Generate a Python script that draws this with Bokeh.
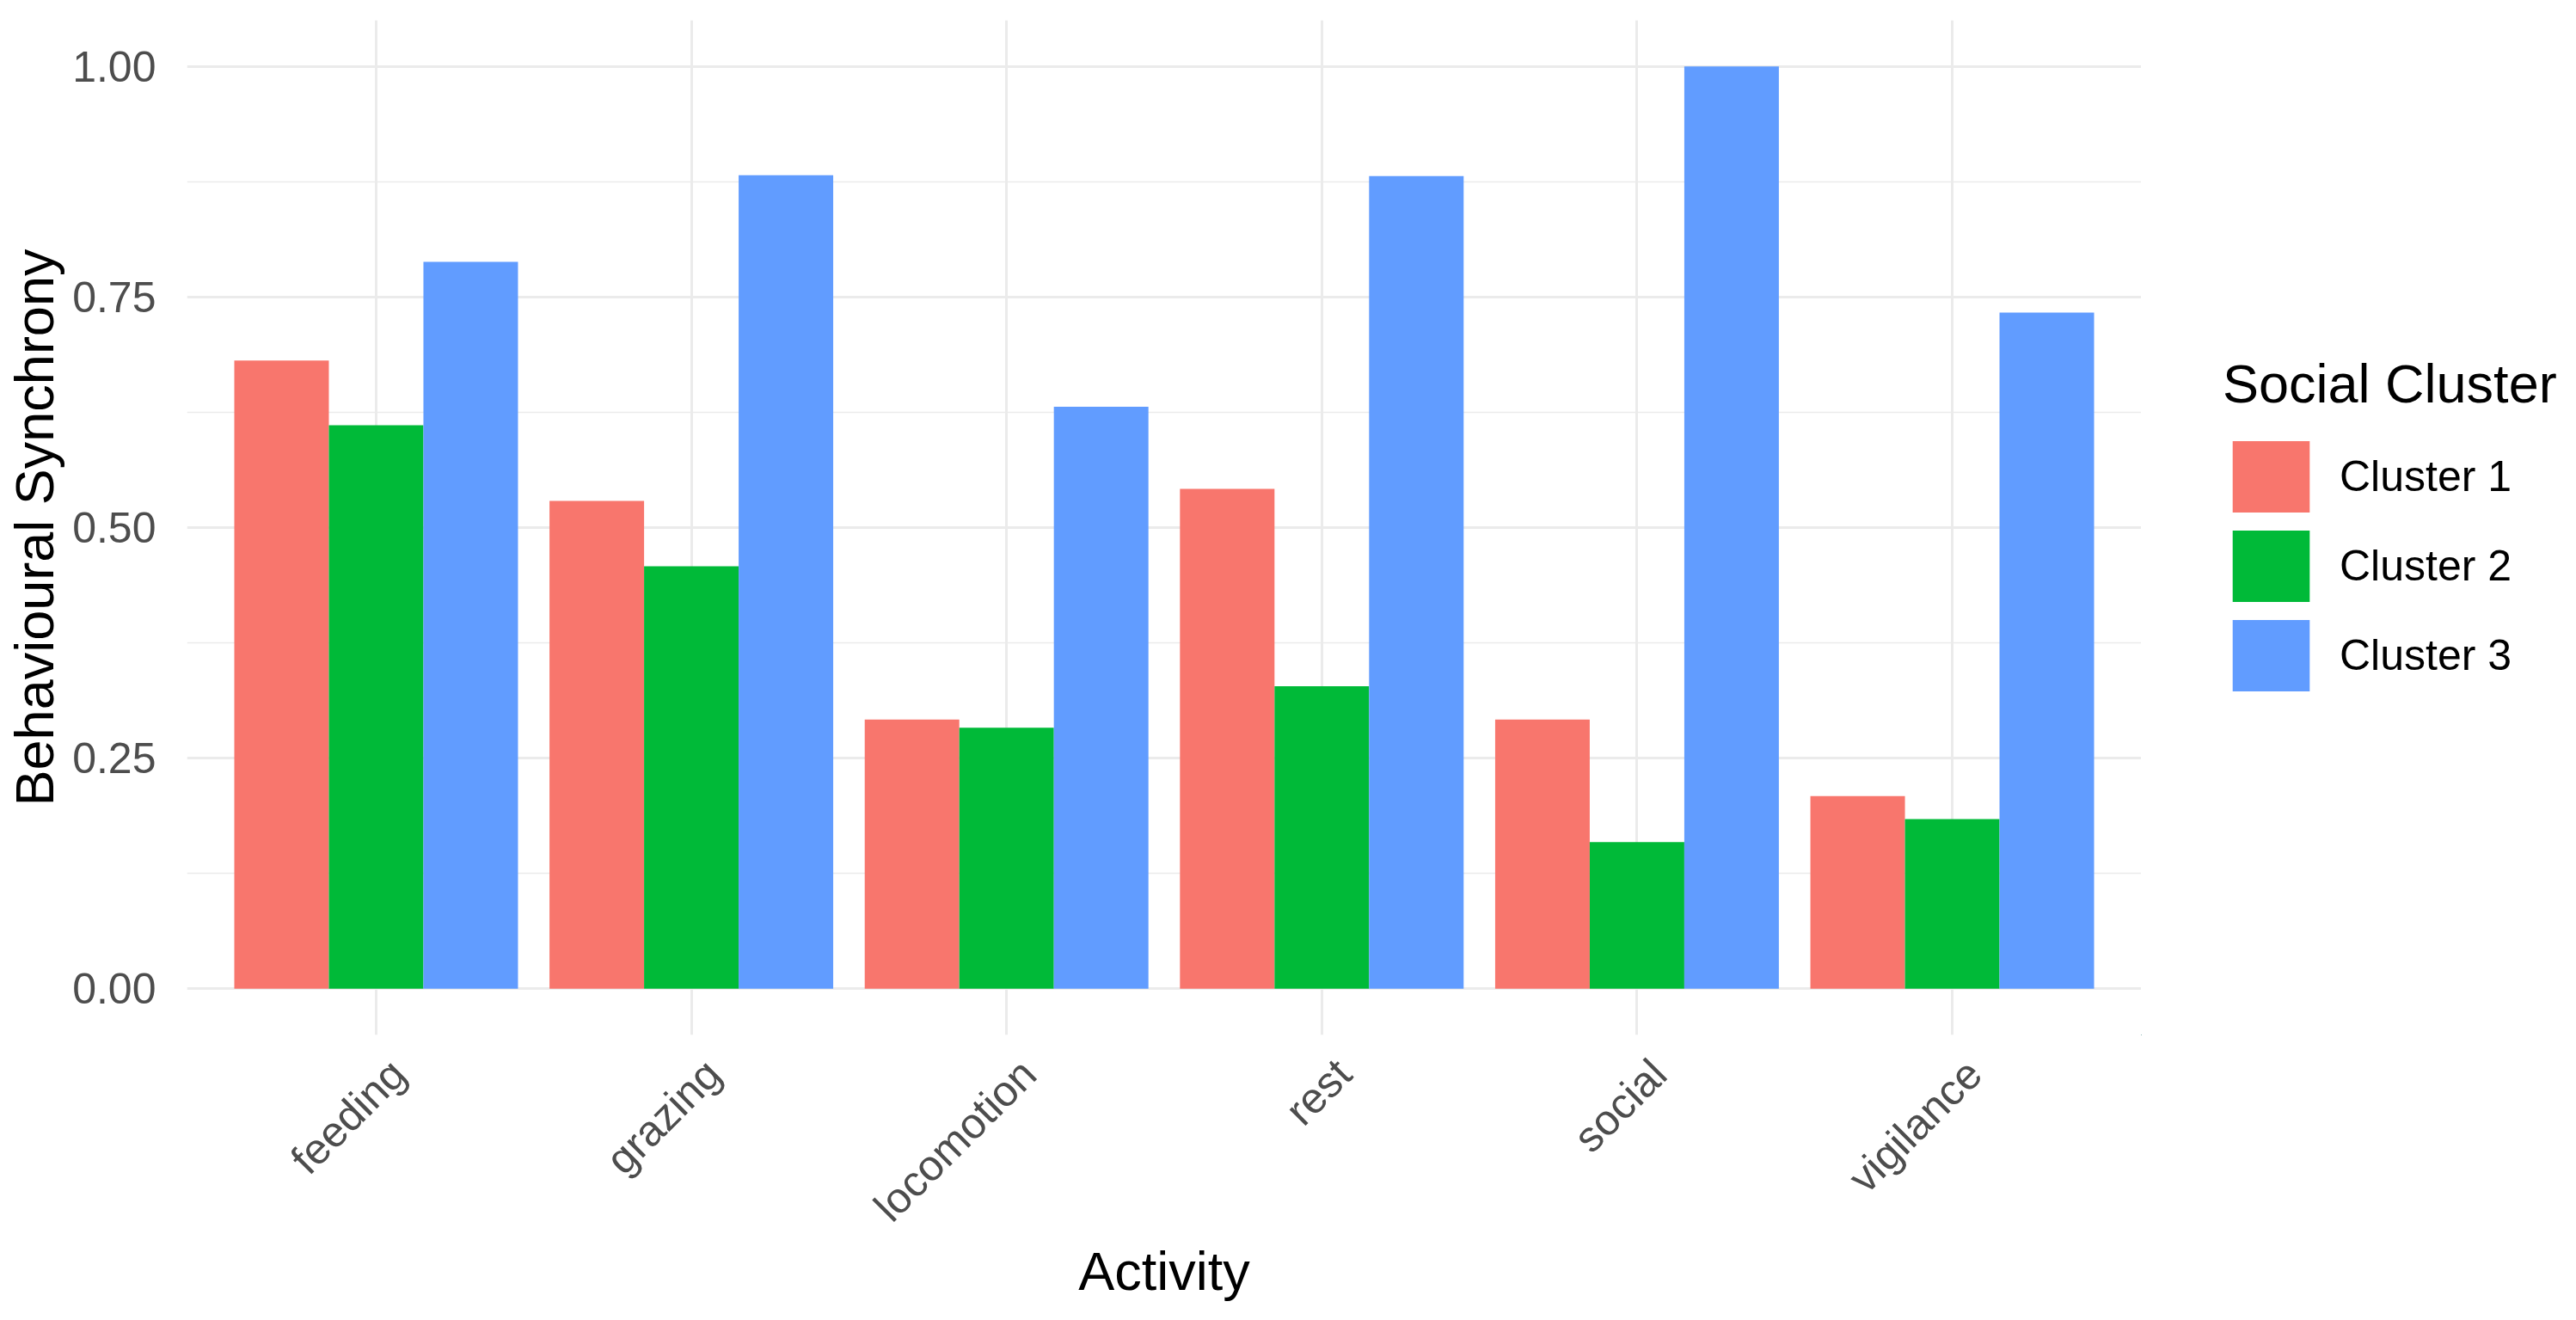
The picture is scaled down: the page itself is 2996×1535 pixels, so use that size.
import math
from bokeh.plotting import figure
from bokeh.layouts import row
from bokeh.models import (Range1d, FixedTicker, NumeralTickFormatter,
                          Legend, LegendItem, ColumnDataSource, LinearAxis)
from bokeh.transform import dodge
from bokeh.embed import file_html
from bokeh.resources import INLINE

activities = ["feeding", "grazing", "locomotion", "rest", "social", "vigilance"]
clusters = ["Cluster 1", "Cluster 2", "Cluster 3"]
cluster1 = [0.681, 0.529, 0.292, 0.542, 0.292, 0.209]
cluster2 = [0.611, 0.458, 0.283, 0.328, 0.159, 0.184]
cluster3 = [0.788, 0.882, 0.631, 0.881, 1.000, 0.733]
colors = ["#F8766D", "#00BA38", "#619CFF"]
y_ticks = [0.0, 0.25, 0.5, 0.75, 1.0]
y_minor = [0.125, 0.375, 0.625, 0.875]

FONT = "Liberation Sans"
H = 1519
W_MAIN, W_LEG = 2490, 490
n = len(activities)
centers = [i + 0.5 for i in range(n)]   # slot centre of each activity

p = figure(width=W_MAIN, height=H,
           x_range=Range1d(-0.1, n + 0.1),
           y_range=Range1d(-0.05, 1.05),
           output_backend="svg", toolbar_location=None,
           min_border_left=217, min_border_right=0,
           min_border_top=23, min_border_bottom=316)

src = ColumnDataSource(dict(activity=activities, x=centers,
                            c1=cluster1, c2=cluster2, c3=cluster3))
offsets = [-0.3, 0.0, 0.3]
keys = ["c1", "c2", "c3"]
for key, off, col in zip(keys, offsets, colors):
    p.vbar(x=dodge("x", off), top=key, bottom=0,
           width=0.3, source=src, fill_color=col, line_color=None)

p.outline_line_color = None
p.background_fill_color = "white"
p.border_fill_color = "white"

p.xaxis.ticker = FixedTicker(ticks=centers, minor_ticks=[])
p.xaxis.visible = False
p.xgrid.ticker = FixedTicker(ticks=centers, minor_ticks=[])
p.xgrid.grid_line_color = "#EBEBEB"
p.xgrid.grid_line_width = 3
p.ygrid.grid_line_color = "#EBEBEB"
p.ygrid.grid_line_width = 3
p.ygrid.minor_grid_line_color = "#EBEBEB"
p.ygrid.minor_grid_line_width = 1.5

p.yaxis.ticker = FixedTicker(ticks=y_ticks, minor_ticks=y_minor)
p.yaxis.formatter = NumeralTickFormatter(format="0.00")

# label axis, shifted slightly right so rotated labels end like ggplot's hjust=1/vjust=1
shift = 0.07
p.extra_x_ranges = {"lab": Range1d(start=-0.1 - shift, end=n + 0.1 - shift)}
lab_axis = LinearAxis(x_range_name="lab",
                      ticker=FixedTicker(ticks=centers, minor_ticks=[]),
                      major_label_overrides={t: a for t, a in zip(centers, activities)})
p.add_layout(lab_axis, "below")

for ax in (lab_axis, p.yaxis[0]):
    ax.axis_line_color = None
    ax.major_tick_line_color = None
    ax.minor_tick_line_color = None
    ax.major_label_text_font = FONT
    ax.major_label_text_font_size = "50px"
    ax.major_label_text_color = "#4D4D4D"
    ax.axis_label_text_font = FONT
    ax.axis_label_text_font_size = "63px"
    ax.axis_label_text_font_style = "normal"
    ax.axis_label_text_color = "black"

lab_axis.axis_label = "Activity"
lab_axis.major_label_orientation = math.pi / 4
lab_axis.major_label_standoff = 31
lab_axis.axis_label_standoff = -11
p.yaxis[0].axis_label = "Behavioural Synchrony"
p.yaxis[0].major_label_standoff = 30
p.yaxis[0].axis_label_standoff = 6

# ---- legend panel (separate canvas to the right of the plot; its frame aligns with the plot's) ----
lg = figure(width=W_LEG, height=H, x_range=Range1d(100, 101), y_range=Range1d(100, 101),
            output_backend="svg", toolbar_location=None, min_border=0,
            x_axis_location=None, y_axis_location=None)
lg.outline_line_color = None
lg.background_fill_color = "white"
lg.border_fill_color = "white"
lg.grid.visible = False
leg_renderers = []
for key, off, col in zip(keys, offsets, colors):
    # same bars, but outside this canvas's ranges: only their legend swatches show
    r = lg.vbar(x=dodge("x", off), top=key, bottom=0, width=0.3, source=src,
                fill_color=col, line_color=None)
    leg_renderers.append(r)

legend = Legend(items=[LegendItem(label=c, renderers=[r]) for c, r in zip(clusters, leg_renderers)],
                title="Social Cluster", location=(95, 389))
legend.title_text_font = FONT
legend.title_text_font_size = "63px"
legend.title_text_font_style = "normal"
legend.title_text_color = "black"
legend.title_standoff = 20
legend.label_text_font = FONT
legend.label_text_font_size = "50px"
legend.label_text_color = "black"
legend.glyph_width = 112
legend.glyph_height = 104
legend.spacing = 0
legend.label_standoff = 24
legend.padding = 0
legend.margin = 0
legend.border_line_color = None
legend.background_fill_alpha = 0
lg.add_layout(legend)

layout = row(p, lg, spacing=0)
open("out.html", "w").write(file_html(layout, INLINE))
